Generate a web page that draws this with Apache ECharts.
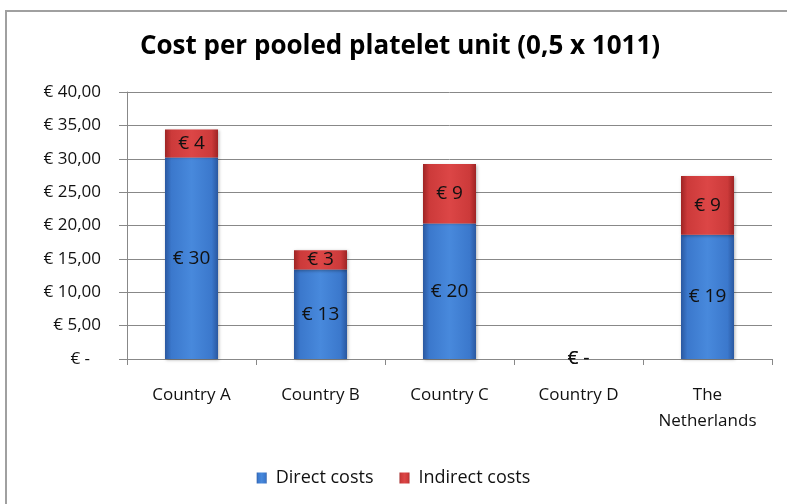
<!DOCTYPE html>
<html>
<head>
<meta charset="utf-8">
<script src="https://cdn.jsdelivr.net/npm/echarts@6/dist/echarts.min.js"></script>
<style>
  html, body { margin: 0; padding: 0; background: #fff; }
  #chart { width: 787px; height: 504px; }
</style>
</head>
<body>
<div id="chart"></div>
<script>
// Cost per pooled platelet unit, split into direct and indirect costs (EUR)
const categories = ['Country A', 'Country B', 'Country C', 'Country D', 'The\nNetherlands'];
const directCosts = [30.2, 13.4, 20.3, 0, 18.6];
const indirectCosts = [4.2, 2.9, 8.9, 0, 8.8];
const seriesNames = ['Direct costs', 'Indirect costs'];

const FONT = '"Open Sans", Lato, sans-serif';
const TEXT = '#111';

function euroAxis(v) {
  if (v === 0) return '{z|€ -}';
  return '€ ' + v.toFixed(2).replace('.', ',');
}
function euroLabel(p) {
  if (p.value === 0) return '€ -';
  return '€ ' + Math.round(p.value);
}

function barGradient(edge, mid, centre) {
  return new echarts.graphic.LinearGradient(0, 0, 1, 0, [
    { offset: 0, color: edge },
    { offset: 0.12, color: mid },
    { offset: 0.5, color: centre },
    { offset: 0.88, color: mid },
    { offset: 1, color: edge }
  ]);
}

const blue = barGradient('#2a58a0', '#3b78cc', '#4889dc');
const red = barGradient('#9e2424', '#cc3a3a', '#dc4646');

const chart = echarts.init(document.getElementById('chart'), null, { renderer: 'canvas' });

chart.setOption({
  animation: false,
  backgroundColor: '#ffffff',
  graphic: [{
    type: 'rect',
    shape: { x: 6, y: 11, width: 800, height: 520 },
    style: { fill: 'none', stroke: '#a0a0a0', lineWidth: 2 },
    silent: true
  }],
  title: {
    text: 'Cost per pooled platelet unit (0,5 x 1011)',
    left: 400,
    textAlign: 'center',
    top: 34,
    padding: 0,
    textStyle: { fontFamily: FONT, fontSize: 26, fontWeight: 'bold', color: '#000' }
  },
  legend: {
    bottom: 12,
    left: 'center',
    itemWidth: 10,
    itemHeight: 11,
    itemGap: 26,
    icon: 'rect',
    padding: [5, 0, 5, 24],
    textStyle: { fontFamily: FONT, fontSize: 18, color: TEXT, padding: [0, 0, 0, 4] },
    data: seriesNames
  },
  grid: { left: 127, right: 15, top: 92, bottom: 145 },
  xAxis: {
    type: 'category',
    data: categories,
    axisLine: { lineStyle: { color: '#888888', width: 1 } },
    axisTick: { show: true, length: 6, lineStyle: { color: '#888888' } },
    axisLabel: {
      interval: 0,
      margin: 23,
      fontFamily: FONT,
      fontSize: 17,
      color: TEXT,
      lineHeight: 26
    }
  },
  yAxis: {
    type: 'value',
    min: 0,
    max: 40,
    interval: 5,
    axisLine: { show: true, lineStyle: { color: '#888888', width: 1 } },
    axisTick: { show: true, length: 8, lineStyle: { color: '#888888' } },
    splitLine: { lineStyle: { color: '#888888', width: 1 } },
    axisLabel: {
      margin: 26,
      fontFamily: FONT,
      fontSize: 17,
      color: TEXT,
      formatter: euroAxis,
      rich: { z: { fontFamily: FONT, fontSize: 17, color: TEXT, padding: [0, 11, 0, 0] } }
    }
  },
  series: [
    {
      name: seriesNames[0],
      type: 'bar',
      stack: 'cost',
      barWidth: 53,
      data: directCosts,
      itemStyle: {
        color: blue,
        shadowBlur: 3,
        shadowColor: 'rgba(0,0,0,0.3)',
        shadowOffsetX: 1,
        shadowOffsetY: 1
      },
      label: {
        show: true,
        position: 'inside',
        formatter: euroLabel,
        fontFamily: FONT,
        fontSize: 19,
        color: TEXT
      }
    },
    {
      name: seriesNames[1],
      type: 'bar',
      stack: 'cost',
      barWidth: 53,
      data: indirectCosts,
      itemStyle: {
        color: red,
        shadowBlur: 3,
        shadowColor: 'rgba(0,0,0,0.3)',
        shadowOffsetX: 1,
        shadowOffsetY: 1
      },
      label: {
        show: true,
        position: 'inside',
        formatter: euroLabel,
        fontFamily: FONT,
        fontSize: 19,
        color: TEXT
      }
    }
  ]
});
</script>
</body>
</html>
